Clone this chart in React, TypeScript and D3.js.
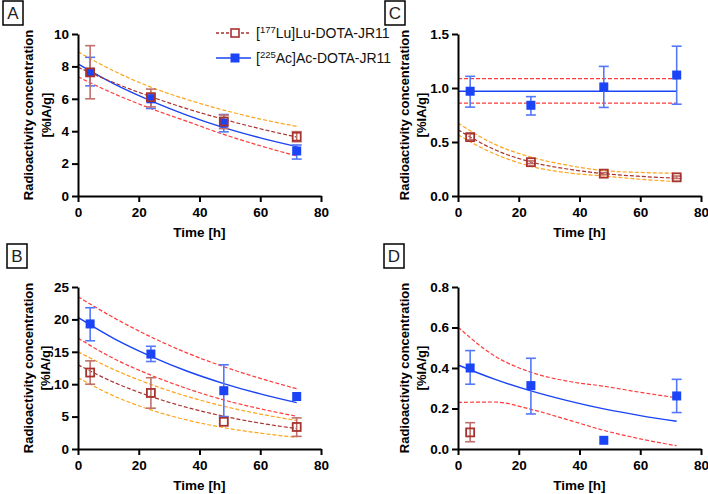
import React, { useEffect, useRef } from 'react';
import * as d3 from 'd3';

// ---------- shared ----------
const TIMES = [4, 24, 48, 72];
const FIT_T = [0, 12, 24, 36, 48, 60, 72];
const X_TICKS = [0, 20, 40, 60, 80];
const LU_LABEL = ['[', '177', 'Lu]Lu-DOTA-JR11'];
const AC_LABEL = ['[', '225', 'Ac]Ac-DOTA-JR11'];

// ---------- panel A ----------
const A_Y_TICKS = [0, 2, 4, 6, 8, 10];
const A_LU = [7.63, 6.1, 4.6, 3.66];
const A_LU_LO = [6.0, 5.5, 4.16, 3.35];
const A_LU_HI = [9.28, 6.6, 5.0, 3.97];
const A_AC = [7.63, 6.0, 4.5, 2.78];
const A_AC_LO = [6.8, 5.4, 3.96, 2.28];
const A_AC_HI = [8.56, 6.3, 5.03, 3.15];
const A_FIT_LU = [7.95, 6.98, 6.13, 5.38, 4.73, 4.15, 3.64];
const A_FIT_AC = [8.15, 6.9, 5.87, 4.98, 4.22, 3.59, 3.05];
const A_ORANGE = [8.9, 7.7, 6.72, 5.95, 5.3, 4.75, 4.3];
const A_RED = [7.36, 6.3, 5.4, 4.6, 3.8, 3.1, 2.47];

// ---------- panel B ----------
const B_Y_TICKS = [0, 5, 10, 15, 20, 25];
const B_LU = [11.8, 8.65, 4.2, 3.4];
const B_LU_LO = [10.0, 6.3, null, 1.95];
const B_LU_HI = [13.6, 11.0, null, 4.8];
const B_AC = [19.3, 14.65, 9.0, 8.1];
const B_AC_LO = [16.7, 13.5, 5.0, null];
const B_AC_HI = [21.8, 15.85, 13.0, null];
const B_FIT_AC = [20.3, 17.0, 14.3, 12.0, 10.1, 8.5, 7.15];
const B_RED_UP = [23.5, 20.2, 17.3, 14.8, 12.7, 10.9, 9.3];
const B_RED_LOW = [17.1, 13.9, 11.4, 9.3, 7.57, 6.2, 5.05];
const B_FIT_LU = [13.0, 10.25, 8.1, 6.4, 5.05, 3.99, 3.15];
const B_ORANGE_UP = [15.0, 12.22, 9.96, 8.11, 6.6, 5.39, 4.4];
const B_ORANGE_LOW = [11.0, 8.14, 6.03, 4.46, 3.3, 2.44, 1.8];

// ---------- panel C ----------
const C_Y_TICKS = [0, 0.5, 1.0, 1.5];
const C_LU = [0.545, 0.313, 0.207, 0.173];
const C_LU_LO = [0.52, 0.3, 0.197, 0.162];
const C_LU_HI = [0.575, 0.325, 0.217, 0.185];
const C_AC = [0.97, 0.84, 1.01, 1.12];
const C_AC_LO = [0.823, 0.75, 0.82, 0.85];
const C_AC_HI = [1.108, 0.92, 1.2, 1.387];
const C_FIT_AC = [0.97, 0.97, 0.97, 0.97, 0.97, 0.97, 0.97];
const C_RED_UP = [1.087, 1.087, 1.087, 1.087, 1.087, 1.087, 1.087];
const C_RED_LOW = [0.86, 0.86, 0.86, 0.86, 0.86, 0.86, 0.86];
const C_FIT_LU = [0.613, 0.43, 0.315, 0.25, 0.207, 0.182, 0.164];
const C_ORANGE_UP = [0.675, 0.48, 0.36, 0.285, 0.235, 0.218, 0.21];
const C_ORANGE_LOW = [0.566, 0.39, 0.275, 0.215, 0.185, 0.155, 0.133];

// ---------- panel D ----------
const D_Y_TICKS = [0, 0.2, 0.4, 0.6, 0.8];
const D_LU = [0.082, null, null, null];
const D_LU_LO = [0.036, null, null, null];
const D_LU_HI = [0.13, null, null, null];
const D_AC = [0.4, 0.313, 0.043, 0.262];
const D_AC_LO = [0.32, 0.173, null, 0.18];
const D_AC_HI = [0.486, 0.448, null, 0.344];
const D_FIT_AC = [0.415, 0.345, 0.287, 0.239, 0.198, 0.165, 0.137];
const D_RED_UP = [0.602, 0.46, 0.379, 0.335, 0.31, 0.28, 0.253];
const D_RED_LOW = [0.23, 0.232, 0.196, 0.145, 0.092, 0.05, 0.016];

// ---------- styling ----------
const BLUE = '#1a44f5';
const BLUE_ERR = '#5478fa';
const BROWN = '#a8322d';
const BROWN_ERR = '#c0706c';
const RED = '#ff3b3b';
const ORANGE = '#ffa31a';
const FONT = '"Liberation Sans", Arial, Helvetica, sans-serif';

const PW = 243;
const PH = 162;

type Arr = (number | null)[];
type Cfg = {
  label: string;
  left: number;
  top: number;
  boxX: number;
  boxY: number;
  yMax: number;
  yTicks: number[];
  fmt: (n: number) => string;
  titleX: [number, number];
  bands: { vals: number[]; color: string }[];
  fits: { vals: number[]; color: string; dash: string | null }[];
  lu: { mean: Arr; lo: Arr; hi: Arr };
  ac: { mean: Arr; lo: Arr; hi: Arr };
};

const PANELS: Cfg[] = [
  {
    label: 'A', left: 78, top: 34, boxX: 3, boxY: 1, yMax: 10, yTicks: A_Y_TICKS, fmt: d3.format('d'),
    titleX: [28, 46],
    bands: [{ vals: A_ORANGE, color: ORANGE }, { vals: A_RED, color: RED }],
    fits: [{ vals: A_FIT_AC, color: BLUE, dash: null }, { vals: A_FIT_LU, color: BROWN, dash: '4,2' }],
    lu: { mean: A_LU, lo: A_LU_LO, hi: A_LU_HI },
    ac: { mean: A_AC, lo: A_AC_LO, hi: A_AC_HI },
  },
  {
    label: 'B', left: 78, top: 287, boxX: 7, boxY: 244, yMax: 25, yTicks: B_Y_TICKS, fmt: d3.format('d'),
    titleX: [28, 45],
    bands: [
      { vals: B_RED_UP, color: RED }, { vals: B_RED_LOW, color: RED },
      { vals: B_ORANGE_UP, color: ORANGE }, { vals: B_ORANGE_LOW, color: ORANGE },
    ],
    fits: [{ vals: B_FIT_AC, color: BLUE, dash: null }, { vals: B_FIT_LU, color: BROWN, dash: '4,2' }],
    lu: { mean: B_LU, lo: B_LU_LO, hi: B_LU_HI },
    ac: { mean: B_AC, lo: B_AC_LO, hi: B_AC_HI },
  },
  {
    label: 'C', left: 458, top: 34, boxX: 385, boxY: 1, yMax: 1.5, yTicks: C_Y_TICKS, fmt: d3.format('.1f'),
    titleX: [404, 421],
    bands: [
      { vals: C_RED_UP, color: RED }, { vals: C_RED_LOW, color: RED },
      { vals: C_ORANGE_UP, color: ORANGE }, { vals: C_ORANGE_LOW, color: ORANGE },
    ],
    fits: [{ vals: C_FIT_AC, color: BLUE, dash: null }, { vals: C_FIT_LU, color: BROWN, dash: '4,2' }],
    lu: { mean: C_LU, lo: C_LU_LO, hi: C_LU_HI },
    ac: { mean: C_AC, lo: C_AC_LO, hi: C_AC_HI },
  },
  {
    label: 'D', left: 458, top: 287, boxX: 384, boxY: 244, yMax: 0.8, yTicks: D_Y_TICKS, fmt: d3.format('.1f'),
    titleX: [404, 421],
    bands: [{ vals: D_RED_UP, color: RED }, { vals: D_RED_LOW, color: RED }],
    fits: [{ vals: D_FIT_AC, color: BLUE, dash: null }],
    lu: { mean: D_LU, lo: D_LU_LO, hi: D_LU_HI },
    ac: { mean: D_AC, lo: D_AC_LO, hi: D_AC_HI },
  },
];

function drawPanel(root: d3.Selection<SVGSVGElement, unknown, null, undefined>, c: Cfg) {
  const x = d3.scaleLinear().domain([0, 80]).range([c.left, c.left + PW]);
  const y = d3.scaleLinear().domain([0, c.yMax]).range([c.top + PH, c.top]);
  const g = root.append('g');

  // panel letter box
  g.append('rect').attr('x', c.boxX).attr('y', c.boxY).attr('width', 20).attr('height', 24)
    .attr('fill', 'white').attr('stroke', 'black').attr('stroke-width', 1.5);
  g.append('text').attr('x', c.boxX + 10).attr('y', c.boxY + 18).attr('text-anchor', 'middle')
    .attr('font-family', FONT).attr('font-size', 17).attr('fill', '#222').text(c.label);

  const line = d3.line<number>().x((_, i) => x(FIT_T[i])).y((v) => y(v)).curve(d3.curveMonotoneX);

  c.bands.forEach((b) => {
    g.append('path').attr('d', line(b.vals)).attr('fill', 'none').attr('stroke', b.color)
      .attr('stroke-width', 1.2).attr('stroke-dasharray', '4,2');
  });
  c.fits.forEach((f) => {
    const p = g.append('path').attr('d', line(f.vals)).attr('fill', 'none').attr('stroke', f.color)
      .attr('stroke-width', f.dash ? 1.2 : 1.4);
    if (f.dash) p.attr('stroke-dasharray', f.dash);
  });

  const errBars = (s: { mean: Arr; lo: Arr; hi: Arr }, color: string) => {
    TIMES.forEach((t, i) => {
      const lo = s.lo[i];
      const hi = s.hi[i];
      if (lo == null || hi == null) return;
      const cx = x(t);
      g.append('line').attr('x1', cx).attr('x2', cx).attr('y1', y(lo)).attr('y2', y(hi))
        .attr('stroke', color).attr('stroke-width', 1.6);
      [lo, hi].forEach((v) => {
        g.append('line').attr('x1', cx - 5).attr('x2', cx + 5).attr('y1', y(v)).attr('y2', y(v))
          .attr('stroke', color).attr('stroke-width', 1.6);
      });
    });
  };
  errBars(c.ac, BLUE_ERR);
  errBars(c.lu, BROWN_ERR);

  TIMES.forEach((t, i) => {
    const v = c.ac.mean[i];
    if (v == null) return;
    g.append('rect').attr('x', x(t) - 4.5).attr('y', y(v) - 4.5).attr('width', 9).attr('height', 9)
      .attr('fill', BLUE);
  });
  TIMES.forEach((t, i) => {
    const v = c.lu.mean[i];
    if (v == null) return;
    g.append('rect').attr('x', x(t) - 4).attr('y', y(v) - 4).attr('width', 8).attr('height', 8)
      .attr('fill', 'none').attr('stroke', BROWN).attr('stroke-width', 1.8);
  });

  // axes
  const xa = g.append('g').attr('transform', `translate(0,${c.top + PH})`)
    .call(d3.axisBottom(x).tickValues(X_TICKS).tickFormat(d3.format('d')).tickSizeOuter(0).tickSizeInner(6).tickPadding(5));
  const ya = g.append('g').attr('transform', `translate(${c.left},0)`)
    .call(d3.axisLeft(y).tickValues(c.yTicks).tickFormat(c.fmt as any).tickSizeOuter(0).tickSizeInner(6).tickPadding(3));
  [xa, ya].forEach((a) => {
    a.select('.domain').attr('stroke', 'black').attr('stroke-width', 2);
    a.selectAll('.tick line').attr('stroke', 'black').attr('stroke-width', 2);
    a.selectAll('.tick text').attr('font-family', FONT).attr('font-size', 13.5).attr('font-weight', 'bold').attr('fill', 'black');
  });

  // titles
  g.append('text').attr('x', c.left + PW / 2).attr('y', c.top + PH + 41).attr('text-anchor', 'middle')
    .attr('font-family', FONT).attr('font-size', 13.5).attr('font-weight', 'bold').text('Time [h]');
  const cy = c.top + PH / 2;
  ['Radioactivity concentration', '[%IA/g]'].forEach((txt, k) => {
    g.append('text').attr('transform', `translate(${c.titleX[k]},${cy}) rotate(-90)`)
      .attr('text-anchor', 'middle').attr('dy', '0.35em')
      .attr('font-family', FONT).attr('font-size', 13).attr('font-weight', 'bold').text(txt);
  });
}

function drawLegend(root: d3.Selection<SVGSVGElement, unknown, null, undefined>) {
  const items = [
    { parts: LU_LABEL, color: BROWN, dash: '3,2', open: true, y: 33 },
    { parts: AC_LABEL, color: BLUE, dash: null, open: false, y: 58 },
  ];
  items.forEach((it) => {
    const g = root.append('g');
    const l = g.append('line').attr('x1', 216).attr('x2', 251).attr('y1', it.y).attr('y2', it.y)
      .attr('stroke', it.color).attr('stroke-width', 1.3);
    if (it.dash) l.attr('stroke-dasharray', it.dash);
    if (it.open) {
      g.append('rect').attr('x', 231).attr('y', it.y - 4).attr('width', 8).attr('height', 8)
        .attr('fill', 'white').attr('stroke', it.color).attr('stroke-width', 1.6);
    } else {
      g.append('rect').attr('x', 230.5).attr('y', it.y - 4.5).attr('width', 9).attr('height', 9).attr('fill', it.color);
    }
    const t = g.append('text').attr('x', 256).attr('y', it.y + 5)
      .attr('font-family', FONT).attr('font-size', 14).attr('fill', '#111');
    t.append('tspan').text(it.parts[0]);
    t.append('tspan').attr('font-size', 9.5).attr('dy', -5).text(it.parts[1]);
    t.append('tspan').attr('dy', 5).text(it.parts[2]);
  });
}

export default function App() {
  const ref = useRef<SVGSVGElement>(null);
  useEffect(() => {
    if (!ref.current) return;
    const root = d3.select(ref.current);
    root.selectAll('*').remove();
    PANELS.forEach((p) => drawPanel(root, p));
    drawLegend(root);
  }, []);
  return (
    <svg
      ref={ref}
      width={708}
      height={494}
      style={{ position: 'absolute', left: 0, top: 0, background: 'white' }}
    />
  );
}
